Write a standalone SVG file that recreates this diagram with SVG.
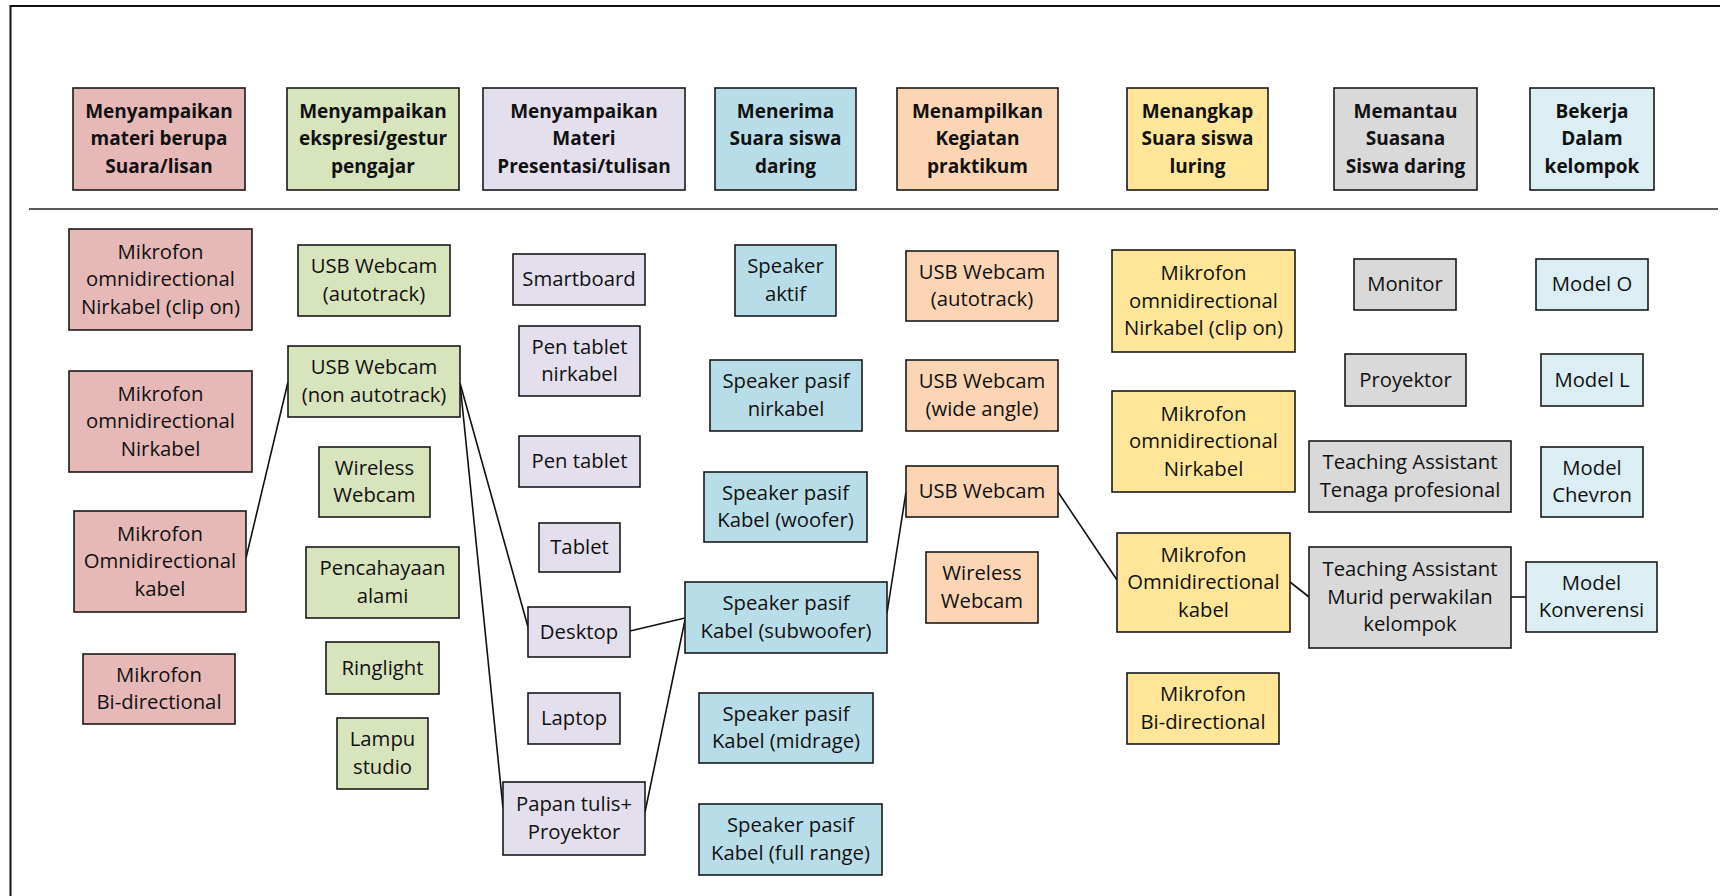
<svg xmlns="http://www.w3.org/2000/svg" width="1720" height="896" viewBox="0 0 1720 896">
<style>
.n rect{stroke:#1a1a1a;stroke-width:1.6}
text{font-family:"Open Sans","Liberation Sans",sans-serif;font-size:20.3px;fill:#111;text-anchor:middle}
.h text{font-weight:bold;font-size:19px}
.red rect{fill:#E6B8B7}.grn rect{fill:#D8E4BC}.pur rect{fill:#E4DFEC}.blu rect{fill:#B7DEE8}
.org rect{fill:#FCD5B4}.yel rect{fill:#FFE699}.gry rect{fill:#D9D9D9}.lbl rect{fill:#DAEEF3}
#connectors line{stroke:#111;stroke-width:1.6}
</style>
<rect x="0" y="0" width="1720" height="896" fill="#fff"/>
<rect x="10.5" y="6" width="1720" height="900" fill="none" stroke="#111" stroke-width="2"/>
<line x1="29" y1="209" x2="1718" y2="209" stroke="#222" stroke-width="1.6"/>

<g id="h1" class="n h red"><rect x="73" y="88" width="172" height="102"/><text><tspan x="159" y="117.5">Menyampaikan</tspan><tspan x="159" y="145">materi berupa</tspan><tspan x="159" y="172.5">Suara/lisan</tspan></text></g>
<g id="h2" class="n h grn"><rect x="287" y="88" width="172" height="102"/><text><tspan x="373" y="117.5">Menyampaikan</tspan><tspan x="373" y="145">ekspresi/gestur</tspan><tspan x="373" y="172.5">pengajar</tspan></text></g>
<g id="h3" class="n h pur"><rect x="483" y="88" width="202" height="102"/><text><tspan x="584" y="117.5">Menyampaikan</tspan><tspan x="584" y="145">Materi</tspan><tspan x="584" y="172.5">Presentasi/tulisan</tspan></text></g>
<g id="h4" class="n h blu"><rect x="715" y="88" width="141" height="102"/><text><tspan x="785.5" y="117.5">Menerima</tspan><tspan x="785.5" y="145">Suara siswa</tspan><tspan x="785.5" y="172.5">daring</tspan></text></g>
<g id="h5" class="n h org"><rect x="897" y="88" width="161" height="102"/><text><tspan x="977.5" y="117.5">Menampilkan</tspan><tspan x="977.5" y="145">Kegiatan</tspan><tspan x="977.5" y="172.5">praktikum</tspan></text></g>
<g id="h6" class="n h yel"><rect x="1127" y="88" width="141" height="102"/><text><tspan x="1197.5" y="117.5">Menangkap</tspan><tspan x="1197.5" y="145">Suara siswa</tspan><tspan x="1197.5" y="172.5">luring</tspan></text></g>
<g id="h7" class="n h gry"><rect x="1334" y="88" width="143" height="102"/><text><tspan x="1405.5" y="117.5">Memantau</tspan><tspan x="1405.5" y="145">Suasana</tspan><tspan x="1405.5" y="172.5">Siswa daring</tspan></text></g>
<g id="h8" class="n h lbl"><rect x="1530" y="88" width="124" height="102"/><text><tspan x="1592" y="117.5">Bekerja</tspan><tspan x="1592" y="145">Dalam</tspan><tspan x="1592" y="172.5">kelompok</tspan></text></g>

<g id="connectors">
<line x1="246" y1="558" x2="288" y2="382"/>
<line x1="460" y1="383" x2="528" y2="627"/>
<line x1="460" y1="383" x2="503" y2="808"/>
<line x1="630" y1="631" x2="685" y2="618"/>
<line x1="645" y1="812" x2="685" y2="620"/>
<line x1="887" y1="613" x2="906" y2="492"/>
<line x1="1058" y1="492" x2="1117" y2="580"/>
<line x1="1290" y1="582" x2="1309" y2="597"/>
<line x1="1511" y1="597" x2="1526" y2="597"/>
</g>

<g id="r1" class="n red"><rect x="69" y="229" width="183" height="101"/><text><tspan x="160.5" y="258.5">Mikrofon</tspan><tspan x="160.5" y="286">omnidirectional</tspan><tspan x="160.5" y="313.5">Nirkabel (clip on)</tspan></text></g>
<g id="r2" class="n red"><rect x="69" y="371" width="183" height="101"/><text><tspan x="160.5" y="400.5">Mikrofon</tspan><tspan x="160.5" y="428">omnidirectional</tspan><tspan x="160.5" y="455.5">Nirkabel</tspan></text></g>
<g id="r3" class="n red"><rect x="74" y="511" width="172" height="101"/><text><tspan x="160" y="540.5">Mikrofon</tspan><tspan x="160" y="568">Omnidirectional</tspan><tspan x="160" y="595.5">kabel</tspan></text></g>
<g id="r4" class="n red"><rect x="83" y="654" width="152" height="70"/><text><tspan x="159" y="681.5">Mikrofon</tspan><tspan x="159" y="709">Bi-directional</tspan></text></g>

<g id="g1" class="n grn"><rect x="298" y="245" width="152" height="71"/><text><tspan x="374" y="273">USB Webcam</tspan><tspan x="374" y="300.5">(autotrack)</tspan></text></g>
<g id="g2" class="n grn"><rect x="288" y="346" width="172" height="71"/><text><tspan x="374" y="374">USB Webcam</tspan><tspan x="374" y="401.5">(non autotrack)</tspan></text></g>
<g id="g3" class="n grn"><rect x="319" y="447" width="111" height="70"/><text><tspan x="374.5" y="474.5">Wireless</tspan><tspan x="374.5" y="502">Webcam</tspan></text></g>
<g id="g4" class="n grn"><rect x="306" y="547" width="153" height="71"/><text><tspan x="382.5" y="575">Pencahayaan</tspan><tspan x="382.5" y="602.5">alami</tspan></text></g>
<g id="g5" class="n grn"><rect x="326" y="642" width="113" height="52"/><text x="382.5" y="674.5">Ringlight</text></g>
<g id="g6" class="n grn"><rect x="337" y="718" width="91" height="71"/><text><tspan x="382.5" y="746">Lampu</tspan><tspan x="382.5" y="773.5">studio</tspan></text></g>

<g id="p1" class="n pur"><rect x="513" y="254" width="132" height="51"/><text x="579" y="286">Smartboard</text></g>
<g id="p2" class="n pur"><rect x="519" y="326" width="121" height="70"/><text><tspan x="579.5" y="353.5">Pen tablet</tspan><tspan x="579.5" y="381">nirkabel</tspan></text></g>
<g id="p3" class="n pur"><rect x="519" y="436" width="121" height="51"/><text x="579.5" y="468">Pen tablet</text></g>
<g id="p4" class="n pur"><rect x="539" y="523" width="81" height="49"/><text x="579.5" y="554">Tablet</text></g>
<g id="p5" class="n pur"><rect x="528" y="607" width="102" height="50"/><text x="579" y="638.5">Desktop</text></g>
<g id="p6" class="n pur"><rect x="528" y="693" width="92" height="51"/><text x="574" y="725">Laptop</text></g>
<g id="p7" class="n pur"><rect x="503" y="782" width="142" height="73"/><text><tspan x="574" y="811">Papan tulis+</tspan><tspan x="574" y="838.5">Proyektor</tspan></text></g>

<g id="b1" class="n blu"><rect x="735" y="245" width="101" height="71"/><text><tspan x="785.5" y="273">Speaker</tspan><tspan x="785.5" y="300.5">aktif</tspan></text></g>
<g id="b2" class="n blu"><rect x="710" y="360" width="152" height="71"/><text><tspan x="786" y="388">Speaker pasif</tspan><tspan x="786" y="415.5">nirkabel</tspan></text></g>
<g id="b3" class="n blu"><rect x="704" y="472" width="163" height="70"/><text><tspan x="785.5" y="499.5">Speaker pasif</tspan><tspan x="785.5" y="527">Kabel (woofer)</tspan></text></g>
<g id="b4" class="n blu"><rect x="685" y="582" width="202" height="71"/><text><tspan x="786" y="610">Speaker pasif</tspan><tspan x="786" y="637.5">Kabel (subwoofer)</tspan></text></g>
<g id="b5" class="n blu"><rect x="699" y="693" width="174" height="70"/><text><tspan x="786" y="720.5">Speaker pasif</tspan><tspan x="786" y="748">Kabel (midrage)</tspan></text></g>
<g id="b6" class="n blu"><rect x="699" y="804" width="183" height="71"/><text><tspan x="790.5" y="832">Speaker pasif</tspan><tspan x="790.5" y="859.5">Kabel (full range)</tspan></text></g>

<g id="o1" class="n org"><rect x="906" y="251" width="152" height="70"/><text><tspan x="982" y="278.5">USB Webcam</tspan><tspan x="982" y="306">(autotrack)</tspan></text></g>
<g id="o2" class="n org"><rect x="906" y="360" width="152" height="71"/><text><tspan x="982" y="388">USB Webcam</tspan><tspan x="982" y="415.5">(wide angle)</tspan></text></g>
<g id="o3" class="n org"><rect x="906" y="466" width="152" height="51"/><text x="982" y="498">USB Webcam</text></g>
<g id="o4" class="n org"><rect x="926" y="552" width="112" height="71"/><text><tspan x="982" y="580">Wireless</tspan><tspan x="982" y="607.5">Webcam</tspan></text></g>

<g id="y1" class="n yel"><rect x="1112" y="250" width="183" height="102"/><text><tspan x="1203.5" y="280">Mikrofon</tspan><tspan x="1203.5" y="307.5">omnidirectional</tspan><tspan x="1203.5" y="335">Nirkabel (clip on)</tspan></text></g>
<g id="y2" class="n yel"><rect x="1112" y="391" width="183" height="101"/><text><tspan x="1203.5" y="420.5">Mikrofon</tspan><tspan x="1203.5" y="448">omnidirectional</tspan><tspan x="1203.5" y="475.5">Nirkabel</tspan></text></g>
<g id="y3" class="n yel"><rect x="1117" y="533" width="173" height="99"/><text><tspan x="1203.5" y="561.5">Mikrofon</tspan><tspan x="1203.5" y="589">Omnidirectional</tspan><tspan x="1203.5" y="616.5">kabel</tspan></text></g>
<g id="y4" class="n yel"><rect x="1127" y="673" width="152" height="71"/><text><tspan x="1203" y="701">Mikrofon</tspan><tspan x="1203" y="728.5">Bi-directional</tspan></text></g>

<g id="gr1" class="n gry"><rect x="1354" y="259" width="102" height="51"/><text x="1405" y="291">Monitor</text></g>
<g id="gr2" class="n gry"><rect x="1345" y="354" width="121" height="52"/><text x="1405.5" y="386.5">Proyektor</text></g>
<g id="gr3" class="n gry"><rect x="1309" y="441" width="202" height="71"/><text><tspan x="1410" y="469">Teaching Assistant</tspan><tspan x="1410" y="496.5">Tenaga profesional</tspan></text></g>
<g id="gr4" class="n gry"><rect x="1309" y="547" width="202" height="101"/><text><tspan x="1410" y="576">Teaching Assistant</tspan><tspan x="1410" y="603.5">Murid perwakilan</tspan><tspan x="1410" y="631">kelompok</tspan></text></g>

<g id="l1" class="n lbl"><rect x="1536" y="259" width="112" height="51"/><text x="1592" y="291">Model O</text></g>
<g id="l2" class="n lbl"><rect x="1541" y="354" width="102" height="52"/><text x="1592" y="386.5">Model L</text></g>
<g id="l3" class="n lbl"><rect x="1541" y="447" width="102" height="70"/><text><tspan x="1592" y="474.5">Model</tspan><tspan x="1592" y="502">Chevron</tspan></text></g>
<g id="l4" class="n lbl"><rect x="1526" y="562" width="131" height="70"/><text><tspan x="1591.5" y="589.5">Model</tspan><tspan x="1591.5" y="617">Konverensi</tspan></text></g>
</svg>
